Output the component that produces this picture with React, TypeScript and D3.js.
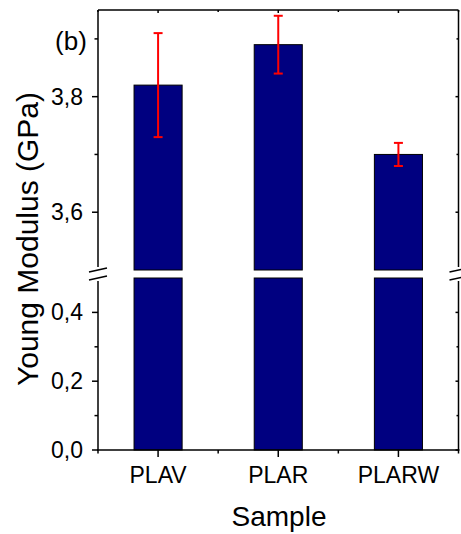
import * as d3 from 'd3';

const samples = ['PLAV', 'PLAR', 'PLARW'];
const modulus = [3.82, 3.89, 3.7];
const modulusErr = [0.09, 0.05, 0.02];

const upperMajor = [3.6, 3.8];
const upperMinor = [3.7, 3.9];
const lowerMajor = [0, 0.2, 0.4];
const lowerMinor = [0.1, 0.3];

const W = 461;
const H = 534;
const left = 98;
const right = 458.5;
const top = 10;
const bottom = 450;
const breakTop = 270;
const breakBottom = 278;

const font = 'Liberation Sans, Arial, sans-serif';
const fmt = (v: number) => d3.format('.1f')(v).replace('.', ',');

const App = () => {
  const x = d3.scalePoint<string>().domain(samples).range([left, right]).padding(0.5);
  const step = x.step();
  const barW = step * 0.4;
  const yUp = d3.scaleLinear([3.5, 3.95], [breakTop, top]);
  const yLo = d3.scaleLinear([0, 0.5], [bottom, breakBottom]);

  const xMinor = [left, ...samples.slice(1).map((s) => (x(s) as number) - step / 2), right];

  // break mark: two slashes around the gap
  const slashes = (cx: number) => (
    <g stroke="#000" strokeWidth={1.5}>
      <line x1={cx} y1={breakTop - 3} x2={cx} y2={breakBottom + 3} stroke="#fff" strokeWidth={4} />
      <line x1={cx - 9} y1={breakTop + 2} x2={cx + 9} y2={breakTop - 2} />
      <line x1={cx - 9} y1={breakBottom + 2} x2={cx + 9} y2={breakBottom - 2} />
    </g>
  );

  return (
    <svg width={W} height={H} style={{ position: 'absolute', left: 0, top: 0, background: '#fff' }}>
      {/* bars, split at the break */}
      {samples.map((s, i) => {
        const cx = x(s) as number;
        return (
          <g key={s} fill="#000080" stroke="#000" strokeWidth={1}>
            <rect x={cx - barW / 2} y={yUp(modulus[i])} width={barW} height={breakTop - yUp(modulus[i])} />
            <rect x={cx - barW / 2} y={breakBottom} width={barW} height={bottom - breakBottom} />
          </g>
        );
      })}

      {/* error bars */}
      {samples.map((s, i) => {
        const cx = x(s) as number;
        const y1 = yUp(modulus[i] + modulusErr[i]);
        const y2 = yUp(modulus[i] - modulusErr[i]);
        return (
          <g key={s} stroke="#ff0000" strokeWidth={2}>
            <line x1={cx} x2={cx} y1={y1} y2={y2} />
            <line x1={cx - 4.5} x2={cx + 4.5} y1={y1} y2={y1} />
            <line x1={cx - 4.5} x2={cx + 4.5} y1={y2} y2={y2} />
          </g>
        );
      })}

      {/* frame */}
      <g stroke="#000" strokeWidth={1.5} fill="none">
        <line x1={left} x2={right} y1={top} y2={top} />
        <line x1={left - 1} x2={right + 1} y1={bottom} y2={bottom} />
        <line x1={left} x2={left} y1={top} y2={bottom} />
        <line x1={right} x2={right} y1={top} y2={bottom} />
      </g>

      {/* y ticks */}
      <g stroke="#000" strokeWidth={1.5}>
        {upperMajor.map((v) => (
          <g key={'um' + v}>
            <line x1={left - 6} x2={left} y1={yUp(v)} y2={yUp(v)} />
            <line x1={right - 3} x2={right} y1={yUp(v)} y2={yUp(v)} />
          </g>
        ))}
        {upperMinor.map((v) => (
          <g key={'un' + v}>
            <line x1={left - 3.5} x2={left} y1={yUp(v)} y2={yUp(v)} />
            <line x1={right - 2} x2={right} y1={yUp(v)} y2={yUp(v)} />
          </g>
        ))}
        {lowerMajor.map((v) => (
          <g key={'lm' + v}>
            <line x1={left - 6} x2={left} y1={yLo(v)} y2={yLo(v)} />
            <line x1={right - 3} x2={right} y1={yLo(v)} y2={yLo(v)} />
          </g>
        ))}
        {lowerMinor.map((v) => (
          <g key={'ln' + v}>
            <line x1={left - 3.5} x2={left} y1={yLo(v)} y2={yLo(v)} />
            <line x1={right - 2} x2={right} y1={yLo(v)} y2={yLo(v)} />
          </g>
        ))}
      </g>

      {/* x ticks */}
      <g stroke="#000" strokeWidth={1.5}>
        {samples.map((s) => (
          <g key={s}>
            <line x1={x(s)} x2={x(s)} y1={bottom} y2={bottom + 7} />
            <line x1={x(s)} x2={x(s)} y1={top} y2={top + 3} />
          </g>
        ))}
        {xMinor.map((v, i) => (
          <g key={'xm' + i}>
            <line x1={v} x2={v} y1={bottom} y2={bottom + 3.5} />
            <line x1={v} x2={v} y1={top} y2={top + 2} />
          </g>
        ))}
      </g>

      {slashes(left)}
      {slashes(right)}

      {/* tick labels */}
      <g fontFamily={font} fontSize={23} fill="#000" textAnchor="end">
        {upperMajor.map((v) => (
          <text key={'ut' + v} x={left - 15} y={yUp(v)} dy="0.35em">
            {fmt(v)}
          </text>
        ))}
        {lowerMajor.map((v) => (
          <text key={'lt' + v} x={left - 15} y={yLo(v)} dy="0.35em">
            {fmt(v)}
          </text>
        ))}
      </g>
      <g fontFamily={font} fontSize={23} fill="#000" textAnchor="middle">
        {samples.map((s) => (
          <text key={s} x={x(s)} y={483}>
            {s}
          </text>
        ))}
      </g>

      <text x={71} y={50} fontFamily={font} fontSize={26} textAnchor="middle">
        (b)
      </text>

      <text x={279} y={526} fontFamily={font} fontSize={28} textAnchor="middle">
        Sample
      </text>
      <text
        transform="translate(38,239) rotate(-90)"
        fontFamily={font}
        fontSize={30}
        textAnchor="middle"
      >
        Young Modulus (GPa)
      </text>
    </svg>
  );
};

export default App;
